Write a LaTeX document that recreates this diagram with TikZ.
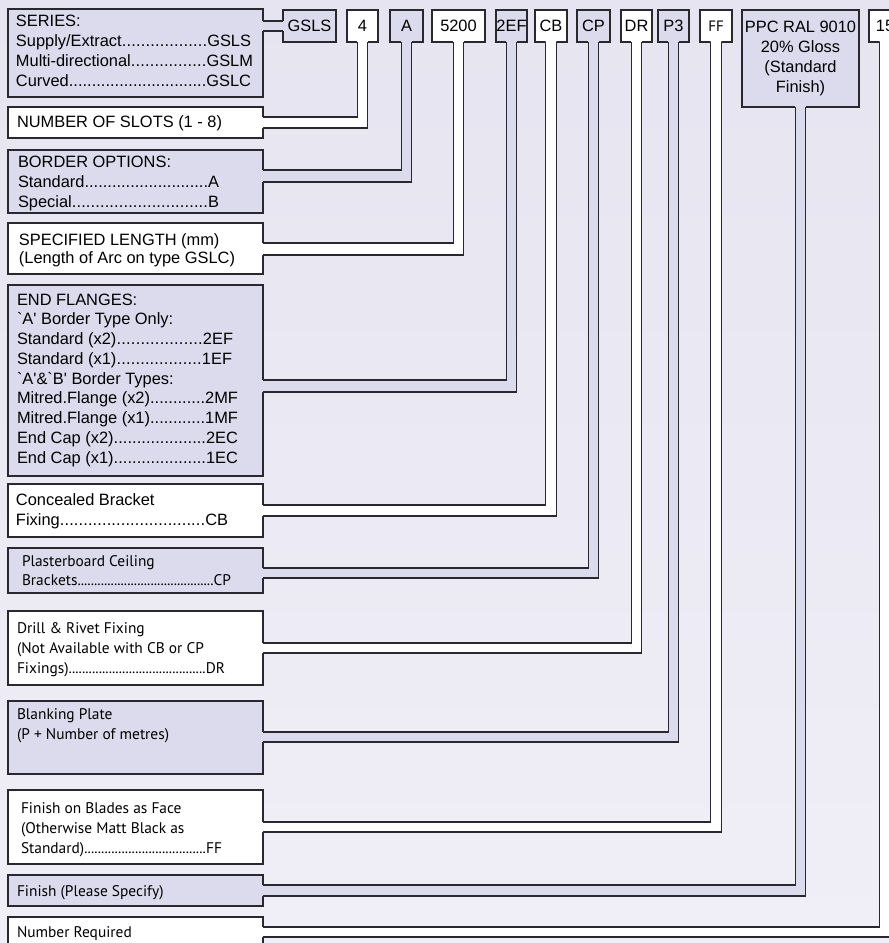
\documentclass[tikz,border=0pt]{standalone}
\usepackage{fontspec}
\newfontfamily\ar{Liberation Sans}
\newfontfamily\hum{PT Sans}
\usetikzlibrary{calc}
\definecolor{lav}{RGB}{220,219,237}
\definecolor{bgtop}{RGB}{230,228,240}
\definecolor{bgbot}{RGB}{240,239,247}
\definecolor{lc}{RGB}{40,40,46}
\def\ldr{\xleaders\hbox{.}\hfill}
\newcommand\fsz{\fontsize{16.4}{20}\selectfont}
\newcommand\hsz{\fontsize{15.4}{20}\selectfont}
\newcommand\pipe[5]{%
  \coordinate (pu) at (0,#4);
  \coordinate (pl) at (0,#5);
  \fill[#1] ($(#2.east |- pu)+(-2,0)$) -- ($(#3.south |- pu)+(-5.3,0)$) -- ($(#3.south)+(-5.3,-2)$) -- ($(#3.south)+(5.3,-2)$) -- ($(#3.south |- pl)+(5.3,0)$) -- ($(#2.east |- pl)+(-2,0)$) -- cycle;
  \draw[ln] (#2.east |- pu) -- ($(#3.south |- pu)+(-5.3,0)$) -- ($(#3.south)+(-5.3,0)$);
  \draw[ln] (#2.east |- pl) -- ($(#3.south |- pl)+(5.3,0)$) -- ($(#3.south)+(5.3,0)$);
}
\tikzset{
  ln/.style={draw=lc, line width=1.2pt, line join=miter},
  lbox/.style={draw=lc, line width=1.2pt, minimum width=255pt, inner sep=0pt, outer sep=0pt, anchor=north west},
  tbox/.style={draw=lc, line width=1.2pt, inner sep=0pt, outer sep=0pt, anchor=north west, minimum height=32pt, font=\ar\fsz},
  txt/.style={inner sep=0pt, outer sep=0pt, anchor=base west, font=\ar\fsz},
  htxt/.style={inner sep=0pt, outer sep=0pt, anchor=base west, font=\hum\hsz},
}
\begin{document}
\begin{tikzpicture}[x=1pt,y=-1pt]
\useasboundingbox (0,0) rectangle (889,943);
\shade[top color=bgtop, bottom color=bgbot] (0,0) rectangle (889,943);

% left boxes
\node[lbox, fill=lav,   minimum height=88pt]  (L1)  at (8,9) {};
\node[lbox, fill=white, minimum height=31pt]  (L2)  at (8,107) {};
\node[lbox, fill=lav,   minimum height=63pt]  (L3)  at (8,150) {};
\node[lbox, fill=white, minimum height=51pt]  (L4)  at (8,223) {};
\node[lbox, fill=lav,   minimum height=191pt] (L5)  at (8,285) {};
\node[lbox, fill=white, minimum height=53pt]  (L6)  at (8,484) {};
\node[lbox, fill=lav,   minimum height=45pt]  (L7)  at (8,548) {};
\node[lbox, fill=white, minimum height=74pt]  (L8)  at (8,611) {};
\node[lbox, fill=lav,   minimum height=73pt]  (L9)  at (8,701) {};
\node[lbox, fill=white, minimum height=74pt]  (L10) at (8,790) {};
\node[lbox, fill=lav,   minimum height=31pt]  (L11) at (8,875) {};
\node[lbox, fill=white, minimum height=40pt]  (L12) at (8,917) {};

% top boxes
\node[tbox, fill=lav,   minimum width=53pt] (T1)  at (283,10) {GSLS};
\node[tbox, fill=white, minimum width=31pt] (T2)  at (347,10) {4};
\node[tbox, fill=lav,   minimum width=33pt] (T3)  at (390,10) {A};
\node[tbox, fill=white, minimum width=53pt] (T4)  at (432,10) {5200};
\node[tbox, fill=lav,   minimum width=31pt] (T5)  at (496,10) {2EF};
\node[tbox, fill=white, minimum width=32pt] (T6)  at (535,10) {CB};
\node[tbox, fill=lav,   minimum width=33pt] (T7)  at (577,10) {CP};
\node[tbox, fill=white, minimum width=31pt] (T8)  at (621,10) {DR};
\node[tbox, fill=lav,   minimum width=31pt] (T9)  at (658,10) {P3};
\node[tbox, fill=white, minimum width=32pt, font=\hum\fontsize{15}{16}\selectfont] (T10) at (700,10) {FF};
\node[tbox, fill=lav,   minimum width=117pt, minimum height=97pt] (T11) at (742,10) {};
\node[tbox, fill=white, minimum width=32pt] (T12) at (869,10) {15};
\node[inner sep=0pt, outer sep=0pt, anchor=base, font=\ar\fsz] (T11t) at (800.5,32)
  {\vtop{\baselineskip=20.3pt\hbox to 0pt{\hss PPC RAL 9010\hss}\hbox to 0pt{\hss 20\% Gloss\hss}\hbox to 0pt{\hss (Standard\hss}\hbox to 0pt{\hss Finish)\hss}}};

% series connector
\coordinate (gu) at (0,21);
\coordinate (gl) at (0,31);
\fill[lav] ($(L1.east |- gu)+(-2,0)$) rectangle ($(T1.west |- gl)+(2,0)$);
\draw[ln] (L1.east |- gu) -- (T1.west |- gu);
\draw[ln] (L1.east |- gl) -- (T1.west |- gl);

% connectors
\pipe{white}{L2}{T2}{117}{128}
\pipe{lav}{L3}{T3}{170}{182}
\pipe{white}{L4}{T4}{243}{255}
\pipe{lav}{L5}{T5}{380}{392}
\pipe{white}{L6}{T6}{505}{516}
\pipe{lav}{L7}{T7}{568}{578}
\pipe{white}{L8}{T8}{643}{653}
\pipe{lav}{L9}{T9}{732}{742}
\pipe{white}{L10}{T10}{822}{832}
\pipe{lav}{L11}{T11}{885}{896}
\pipe{white}{L12}{T12}{927}{937}

% left texts
\node[txt] (x1) at (16,26) {\vtop{\baselineskip=20pt\hbox{SERIES:}\hbox to 235pt{Supply/Extract\ldr GSLS}\hbox to 237pt{Multi-directional\ldr GSLM}\hbox to 235pt{Curved\ldr GSLC}}};
\node[txt] (x2) at (17,127) {NUMBER OF SLOTS (1 - 8)};
\node[txt] (x3) at (18,167) {\vtop{\baselineskip=20pt\hbox{BORDER OPTIONS:}\hbox to 201pt{Standard\ldr A}\hbox to 201pt{Special\ldr B}}};
\node[txt] (x4) at (19,245) {\vtop{\baselineskip=18pt\hbox{SPECIFIED LENGTH (mm)}\hbox{(Length of Arc on type GSLC)}}};
\node[txt] (x5) at (17,305) {\vtop{\baselineskip=19.75pt\hbox{END FLANGES:}\hbox{`A' Border Type Only:}\hbox to 216pt{Standard (x2)\ldr 2EF}\hbox to 215pt{Standard (x1)\ldr 1EF}\hbox{`A'\&`B' Border Types:}\hbox to 221pt{Mitred.Flange (x2)\ldr 2MF}\hbox to 221pt{Mitred.Flange (x1)\ldr 1MF}\hbox to 221pt{End Cap (x2)\ldr 2EC}\hbox to 221pt{End Cap (x1)\ldr 1EC}}};
\node[txt] (x6) at (16,505) {\vtop{\baselineskip=20pt\hbox{Concealed Bracket}\hbox to 212pt{Fixing\ldr CB}}};
\node[htxt] (x7) at (22,566) {\vtop{\baselineskip=19.5pt\hbox{Plasterboard Ceiling}\hbox to 209pt{Brackets\ldr CP}}};
\node[htxt] (x8) at (17,633) {\vtop{\baselineskip=20pt\hbox{Drill \& Rivet Fixing}\hbox{(Not Available with CB or CP}\hbox to 208pt{Fixings)\ldr DR}}};
\node[htxt] (x9) at (17,719) {\vtop{\baselineskip=20pt\hbox{Blanking Plate}\hbox{(P + Number of metres)}}};
\node[htxt] (x10) at (21,813) {\vtop{\baselineskip=20pt\hbox{Finish on Blades as Face}\hbox{(Otherwise Matt Black as}\hbox to 201pt{Standard)\ldr FF}}};
\node[htxt] (x11) at (17,896) {Finish (Please Specify)};
\node[htxt] (x12) at (17,937) {Number Required};
\end{tikzpicture}
\end{document}
